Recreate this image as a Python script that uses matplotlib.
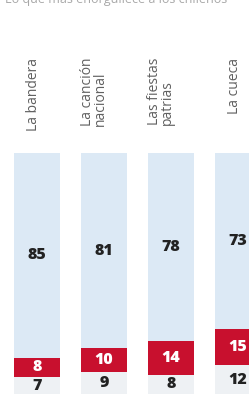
import matplotlib
matplotlib.use("Agg")
import matplotlib.pyplot as plt

categories = ['La bandera', 'La canción\nnacional', 'Las fiestas\npatrias', 'La cueca']
gray_vals = [7, 9, 8, 12]
red_vals = [8, 10, 14, 15]
blue_vals = [85, 81, 78, 73]

c_gray = '#eef1f4'
c_red = '#c8102e'
c_blue = '#dce9f5'

fig = plt.figure(figsize=(2.49, 3.94), dpi=100)
fig.patch.set_facecolor('white')

# heading, only its lower edge shows at the top of the crop
fig.text(5 / 249, 1 - 2.5 / 394, 'Lo que más enorgullece a los chilenos',
         fontsize=9, color='#a8a8a8', ha='left', va='baseline', family='Open Sans')

ax = fig.add_axes([0, 0, 1, (394 - 153) / 394])
ax.set_xlim(-0.552, 3.164)
ax.set_ylim(0, 100)
ax.axis('off')

x = range(len(categories))
w = 0.69
red_bottom = gray_vals
blue_bottom = [g + r for g, r in zip(gray_vals, red_vals)]

ax.bar(x, gray_vals, width=w, color=c_gray)
ax.bar(x, red_vals, width=w, bottom=red_bottom, color=c_red)
ax.bar(x, blue_vals, width=w, bottom=blue_bottom, color=c_blue)

num_font = dict(family='Open Sans', fontweight='heavy', fontsize=11.5)
for i in x:
    ax.text(i, gray_vals[i] / 2, str(gray_vals[i]), ha='center', va='center',
            color='#222222', **num_font)
    ax.text(i, red_bottom[i] + red_vals[i] / 2, str(red_vals[i]), ha='center',
            va='center', color='white', **num_font)
    ax.text(i, blue_bottom[i] + blue_vals[i] / 2, str(blue_vals[i]), ha='center',
            va='center', color='#222222', **num_font)

    # category labels, rotated above the bars
    ax.annotate(categories[i], xy=(i, 1 - 58 / 394),
                xycoords=('data', 'figure fraction'),
                xytext=(3, 0), textcoords='offset points',
                rotation=90, ha='right', va='top', multialignment='left',
                linespacing=0.85, fontsize=10, color='#606060',
                family=['Liberation Sans Narrow', 'Open Sans'],
                annotation_clip=False)

fig.savefig('out.png', dpi=100)
